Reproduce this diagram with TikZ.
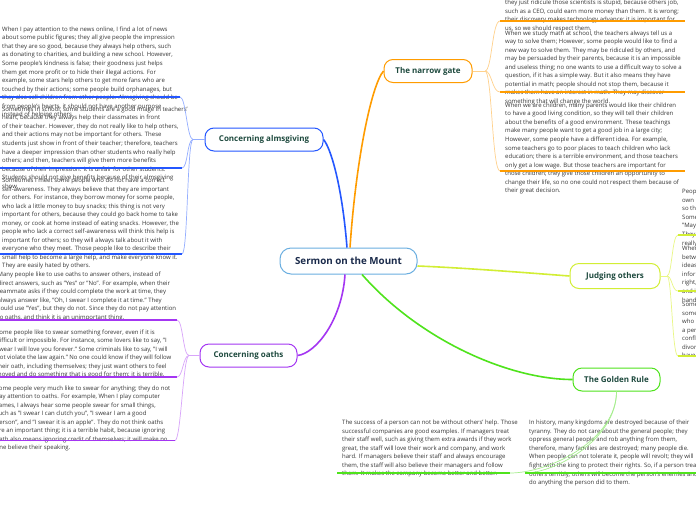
\documentclass[tikz,border=0pt]{standalone}
\usepackage{fontspec}
\setmainfont{Open Sans}
\usepackage{xcolor}
\usetikzlibrary{positioning,calc}
\definecolor{MountBlue}{HTML}{6AAEE0}
\definecolor{MountInk}{HTML}{1B2B4B}
\definecolor{TopicInk}{HTML}{1E4A3E}
\definecolor{LeafInk}{HTML}{363636}
\definecolor{AlmsBlue}{HTML}{2457FF}
\definecolor{AlmsPale}{HTML}{94AEFF}
\definecolor{OathPurple}{HTML}{A436F2}
\definecolor{OathPale}{HTML}{D8A4FA}
\definecolor{GateOrange}{HTML}{FF9C00}
\definecolor{GatePale}{HTML}{FFD18C}
\definecolor{JudgeLime}{HTML}{D2EE34}
\definecolor{JudgePale}{HTML}{E9F785}
\definecolor{RuleGreen}{HTML}{4FE31C}
\definecolor{RulePale}{HTML}{A6EE8E}

\begin{document}
\begin{tikzpicture}[x=1pt,y=-1pt,
  centre/.style={draw=MountBlue,line width=1pt,fill=white,rounded corners=11pt,minimum width=137pt,minimum height=26pt,inner sep=2pt,font=\fontsize{9.8}{11}\selectfont\bfseries,text=MountInk},
  topic/.style={line width=1pt,fill=white,rounded corners=9pt,minimum height=23pt,inner sep=2pt,font=\fontsize{8}{9}\selectfont\bfseries,text=TopicInk},
  leaf/.style={anchor=north west,align=left,inner sep=0pt,font=\fontsize{6}{8.55}\selectfont,text=LeafInk},
  branch/.style={line width=1.6pt},
  twig/.style={line width=0.7pt},
  rule/.style={line width=1.3pt}
]
  \useasboundingbox (0,0) rectangle (696,520);
  \fill[white] (0,0) rectangle (696,520);
  \clip (0,0) rectangle (696,520);

  % main topics
  \node[centre] (sermon) at (348.5,261) {Sermon on the Mount};
  \node[topic,draw=AlmsBlue,minimum width=118pt] (alms) at (264,139.5) {Concerning almsgiving};
  \node[topic,draw=OathPurple,minimum width=97pt] (oaths) at (248.5,355.5) {Concerning oaths};
  \node[topic,draw=GateOrange,minimum width=88pt] (gate) at (428,71) {The narrow gate};
  \node[topic,draw=JudgeLime,minimum width=90pt,minimum height=25pt] (judge) at (615,276) {Judging others};
  \node[topic,draw=RuleGreen,minimum width=87pt] (golden) at (616.5,379.5) {The Golden Rule};

  \draw[branch,AlmsBlue] ([xshift=-1.5pt]sermon.north) .. controls +(-5,-63) and +(7,8) .. (alms.east);
  \draw[branch,GateOrange] ([xshift=1.5pt]sermon.north) .. controls +(6,-88) and +(-12,14) .. (gate.west);
  \draw[branch,OathPurple] ([xshift=-3.5pt]sermon.south) .. controls +(-3,46) and +(18,-2) .. (oaths.east);
  \draw[branch,JudgeLime] ([yshift=-5pt]sermon.east) .. controls +(50,2) and +(-40,-3) .. (judge.west);
  \draw[branch,RuleGreen] ([xshift=13.5pt]sermon.south) .. controls +(58,66) and +(-63,0) .. (golden.west);

  % almsgiving
  \node[leaf] (alms1) at (2,26.5) {When I pay attention to the news online, I find a lot of news\\about some public figures; they all give people the impression\\that they are so good, because they always help others, such\\as donating to charities, and building a new school. However,\\Some people's kindness is false; their goodness just helps\\them get more profit or to hide their illegal actions. For\\example, some stars help others to get more fans who are\\touched by their actions; some people build orphanages, but\\they also sell children from other people. Almsgiving should be\\from people's hearts, it should not have another purpose\\instead of helping others.};
  \node[leaf] (alms2) at (2,106.5) {Sometimes in school, some students are a good image in teachers'\\heart, because they always help their classmates in front\\of their teacher. However, they do not really like to help others,\\and their actions may not be important for others. These\\students just show in front of their teacher; therefore, teachers\\have a deeper impression than other students who really help\\others; and then, teachers will give them more benefits\\because of their impression. It is unfair for other students.\\Students should not give benefits because of their almsgiving\\show.};
  \node[leaf] (alms3) at (2,177.7) {Sometimes I meet some people who do not have a correct\\self-awareness. They always believe that they are important\\for others. For instance, they borrow money for some people,\\who lack a little money to buy snacks; this thing is not very\\important for others, because they could go back home to take\\money, or cook at home instead of eating snacks. However, the\\people who lack a correct self-awareness will think this help is\\important for others; so they will always talk about it with\\everyone who they meet. Those people like to describe their\\small help to become a large help, and make everyone know it.\\They are easily hated by others.};
  \coordinate (almsfork) at (193,139.5);
  \coordinate (alms1a) at (-5,97);  \coordinate (alms1b) at (180,97);
  \coordinate (alms2a) at (-5,168); \coordinate (alms2b) at (182,168);
  \coordinate (alms3a) at (-5,254); \coordinate (alms3b) at (182,254);
  \draw[twig,AlmsPale] (alms.west) -- (almsfork);
  \foreach \k in {1,2,3} {
    \draw[twig,AlmsPale] (almsfork) .. controls +(-6,0) and +(6,0) .. (alms\k b);
    \draw[rule,AlmsBlue] (alms\k a) -- (alms\k b);
  }

  % oaths
  \node[leaf] (oath1) at (-2.5,272) {Many people like to use oaths to answer others, instead of\\direct answers, such as "Yes" or "No". For example, when their\\teammate asks if they could complete the work at time, they\\always answer like, "Oh, I swear I complete it at time." They\\could use "Yes", but they do not. Since they do not pay attention\\to oaths, and think it is an unimportant thing.};
  \node[leaf] (oath2) at (-4,329.3) {Some people like to swear something forever, even if it is\\difficult or impossible. For instance, some lovers like to say, "I\\swear I will love you forever." Some criminals like to say, "I will\\not violate the law again." No one could know if they will follow\\their oath, including themselves; they just want others to feel\\moved and do something that is good for them; it is terrible.};
  \node[leaf] (oath3) at (-4.5,385.3) {Some people very much like to swear for anything; they do not\\pay attention to oaths. For example, When I play computer\\games, I always hear some people swear for small things,\\such as "I swear I can clutch you", "I swear I am a good\\person", and "I swear it is an apple". They do not think oaths\\are an important thing; it is a terrible habit, because ignoring\\oath also means ignoring credit of themselves; it will make no\\one believe their speaking.};
  \coordinate (oathfork) at (189,355.5);
  \coordinate (oath1a) at (-5,320);   \coordinate (oath1b) at (177,320);
  \coordinate (oath2a) at (-5,377);   \coordinate (oath2b) at (177,377);
  \coordinate (oath3a) at (-5,440.5); \coordinate (oath3b) at (175,440.5);
  \draw[twig,OathPale] (oaths.west) -- (oathfork);
  \foreach \k in {1,2,3} {
    \draw[twig,OathPale] (oathfork) .. controls +(-6,0) and +(6,0) .. (oath\k b);
    \draw[rule,OathPurple] (oath\k a) -- (oath\k b);
  }

  % narrow gate
  \node[leaf] (gate1) at (505,-0.3) {they just ridicule those scientists is stupid, because others job,\\such as a CEO, could earn more money than them. It is wrong;\\their discovery makes technology advance; it is important for\\us, so we should respect them.};
  \node[leaf] (gate2) at (505,30.3) {When we study math at school, the teachers always tell us a\\way to solve them; However, some people would like to find a\\new way to solve them. They may be ridiculed by others, and\\may be persuaded by their parents, because it is an impossible\\and useless thing; no one wants to use a difficult way to solve a\\question, if it has a simple way. But it also means they have\\potential in math; people should not stop them, because it\\makes them have an interest in math. They may discover\\something that will change the world.};
  \node[leaf] (gate3) at (505,102.5) {When we are children, many parents would like their children\\to have a good living condition, so they will tell their children\\about the benefits of a good environment. These teachings\\make many people want to get a good job in a large city;\\However, some people have a different idea. For example,\\some teachers go to poor places to teach children who lack\\education; there is a terrible environment, and those teachers\\only get a low wage. But those teachers are important for\\those children; they give those children an opportunity to\\change their life, so no one could not respect them because of\\their great decision.};
  \coordinate (gatefork) at (485,71);
  \coordinate (gate1a) at (500,21);  \coordinate (gate1b) at (685,21);
  \coordinate (gate2a) at (500,92);  \coordinate (gate2b) at (685,92);
  \coordinate (gate3a) at (500,171); \coordinate (gate3b) at (685,171);
  \draw[twig,GatePale] (gate.east) -- (gatefork);
  \foreach \k in {1,2,3} {
    \draw[twig,GatePale] (gatefork) .. controls +(7,0) and +(-8,0) .. (gate\k a);
    \draw[rule,GateOrange] (gate\k a) -- (gate\k b);
  }

  % judging others
  \node[leaf] (judge1) at (682,189) {People\\own life\\so that\\Some\\"Maybe\\They\\really};
  \node[leaf] (judge2) at (682,246) {When\\between\\ideas\\information\\right,\\and it\\hand};
  \node[leaf] (judge3) at (682,302) {Some\\someone\\who is\\a person\\conflict\\divorce\\have};
  \coordinate (judgefork) at (667,276);
  \coordinate (judge1a) at (678,235); \coordinate (judge1b) at (705,235);
  \coordinate (judge2a) at (678,291); \coordinate (judge2b) at (705,291);
  \coordinate (judge3a) at (678,356); \coordinate (judge3b) at (705,356);
  \draw[twig,JudgePale] (judge.east) -- (judgefork);
  \foreach \k in {1,2,3} {
    \draw[twig,JudgePale] (judgefork) .. controls +(5,0) and +(-6,0) .. (judge\k a);
    \draw[rule,JudgeLime] (judge\k a) -- (judge\k b);
  }

  % golden rule
  \node[leaf] (gold1) at (342,419.7) {The success of a person can not be without others' help. Those\\successful companies are good examples. If managers treat\\their staff well, such as giving them extra awards if they work\\great, the staff will love their work and company, and work\\hard. If managers believe their staff and always encourage\\them, the staff will also believe their managers and follow\\them. It makes the company become better and better.};
  \node[leaf] (gold2) at (529,420) {In history, many kingdoms are destroyed because of their\\tyranny. They do not care about the general people; they\\oppress general people and rob anything from them,\\therefore, many families are destroyed; many people die.\\When people can not tolerate it, people will revolt; they will\\fight with the king to protect their rights. So, if a person treat\\others terribly, others will become the person's enemies and\\do anything the person did to them.};
  \coordinate (gold1a) at (337,473); \coordinate (gold1b) at (510,473);
  \coordinate (gold2a) at (525,473); \coordinate (gold2b) at (705,473);
  \draw[twig,RulePale] (golden.south) .. controls +(0,48) and +(40,0) .. (gold1b);
  \draw[twig,RulePale] (golden.south) .. controls +(0,48) and +(30,0) .. (gold2a);
  \draw[rule,RuleGreen] (gold1a) -- (gold1b);
  \draw[rule,RuleGreen] (gold2a) -- (gold2b);
\end{tikzpicture}
\end{document}
